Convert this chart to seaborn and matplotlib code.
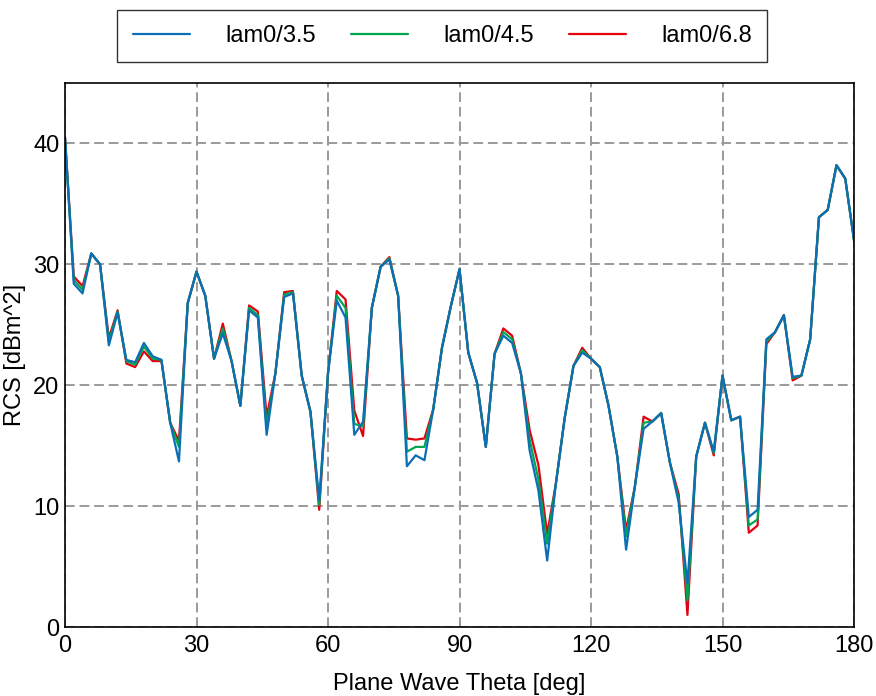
import numpy as np
import pandas as pd
import matplotlib
matplotlib.use("Agg")
import matplotlib.pyplot as plt
import seaborn as sns

# plane wave theta, sampled every 2 deg
theta = np.arange(0, 181, 2)

rcs_35 = [40.5, 28.4, 27.6, 30.9, 30.0, 23.3, 26.0, 22.1, 21.9, 23.5,
          22.4, 22.1, 16.9, 13.7, 26.8, 29.4, 27.4, 22.2, 24.3, 22.0,
          18.3, 26.2, 25.6, 15.9, 21.0, 27.3, 27.6, 20.8, 17.8, 10.5,
          21.0, 27.0, 25.6, 15.9, 17.0, 26.4, 29.8, 30.4, 27.4, 13.3,
          14.2, 13.8, 18.0, 23.1, 26.5, 29.6, 22.7, 20.2, 14.9, 22.6,
          24.1, 23.5, 21.0, 14.6, 11.3, 5.5, 11.9, 17.3, 21.6, 22.7,
          22.2, 21.5, 18.3, 14.1, 6.4, 11.6, 16.4, 17.0, 17.7, 13.6,
          10.3, 3.6, 14.1, 16.9, 14.5, 20.8, 17.1, 17.4, 9.1, 9.7,
          23.8, 24.4, 25.8, 20.7, 20.8, 23.8, 33.9, 34.5, 38.2, 37.1, 32.0]

rcs_45 = [40.5, 28.7, 27.9, 30.9, 30.0, 23.6, 26.1, 22.0, 21.7, 23.2,
          22.2, 22.1, 16.9, 14.9, 26.8, 29.4, 27.4, 22.2, 24.7, 22.0,
          18.3, 26.4, 25.8, 16.6, 21.0, 27.5, 27.7, 20.8, 17.8, 10.1,
          21.0, 27.4, 26.4, 16.8, 16.6, 26.4, 29.8, 30.5, 27.4, 14.5,
          14.9, 14.9, 18.0, 23.1, 26.5, 29.6, 22.7, 20.2, 14.9, 22.6,
          24.4, 23.8, 21.0, 15.5, 12.2, 6.9, 11.9, 17.3, 21.6, 22.9,
          22.2, 21.5, 18.3, 14.1, 7.5, 11.6, 16.9, 17.0, 17.7, 13.6,
          10.6, 2.2, 14.1, 16.9, 14.4, 20.8, 17.1, 17.4, 8.4, 8.9,
          23.6, 24.4, 25.8, 20.6, 20.8, 23.8, 33.9, 34.5, 38.2, 37.1, 32.0]

rcs_68 = [40.5, 29.0, 28.2, 30.9, 30.0, 23.9, 26.2, 21.8, 21.5, 22.8,
          22.0, 22.0, 16.9, 15.4, 26.8, 29.4, 27.4, 22.2, 25.1, 22.0,
          18.3, 26.6, 26.1, 17.4, 21.0, 27.7, 27.8, 20.8, 17.8, 9.7,
          21.0, 27.8, 27.1, 17.9, 15.8, 26.4, 29.8, 30.6, 27.4, 15.6,
          15.5, 15.6, 18.0, 23.1, 26.5, 29.6, 22.7, 20.2, 14.9, 22.6,
          24.7, 24.1, 21.0, 16.3, 13.4, 7.7, 11.9, 17.3, 21.6, 23.1,
          22.2, 21.5, 18.3, 14.1, 8.0, 11.6, 17.4, 17.0, 17.7, 13.6,
          11.0, 1.0, 14.1, 16.9, 14.2, 20.8, 17.1, 17.4, 7.8, 8.4,
          23.4, 24.4, 25.8, 20.4, 20.8, 23.8, 33.9, 34.5, 38.2, 37.1, 32.0]

labels = ["lam0/3.5", "lam0/4.5", "lam0/6.8"]
colors = {"lam0/3.5": "#0b6fb5", "lam0/4.5": "#00a651", "lam0/6.8": "#e3000f"}

df = pd.concat([
    pd.DataFrame({"theta": theta, "rcs": rcs_35, "mesh": labels[0]}),
    pd.DataFrame({"theta": theta, "rcs": rcs_45, "mesh": labels[1]}),
    pd.DataFrame({"theta": theta, "rcs": rcs_68, "mesh": labels[2]}),
])

sns.set_style("white")
plt.rcParams["font.family"] = ["Liberation Sans", "DejaVu Sans"]
plt.rcParams["font.size"] = 17

fig = plt.figure(figsize=(8.76, 6.96), dpi=100)
ax = fig.add_axes([0.0742, 0.0991, 0.9007, 0.7816])

# red drawn first so blue ends on top
sns.lineplot(data=df, x="theta", y="rcs", hue="mesh", hue_order=labels[::-1],
             palette=colors, linewidth=1.6, ax=ax, legend=False, sort=False)

ax.set_xlim(0, 180)
ax.set_ylim(0, 45)
ax.set_xticks([0, 30, 60, 90, 120, 150, 180])
ax.set_yticks([0, 10, 20, 30, 40])
ax.grid(True, color="#9a9a9a", linestyle=(0, (5, 2.5)), linewidth=1.4)
ax.set_axisbelow(True)
ax.tick_params(length=0, labelsize=17, colors="black")
ax.tick_params(axis="y", pad=4)
ax.tick_params(axis="x", pad=6)
for s in ax.spines.values():
    s.set_color("black")
    s.set_linewidth(1.2)
ax.set_xlabel("Plane Wave Theta [deg]", fontsize=17, labelpad=11, color="black")
ax.set_ylabel("RCS [dBm^2]", fontsize=17, labelpad=5, color="black")

handles = [plt.Line2D([], [], color=colors[l], linewidth=1.6) for l in labels]
leg = fig.legend(handles, labels, loc="upper center", bbox_to_anchor=(0.505, 0.986),
                 ncol=3, fontsize=17, frameon=True, fancybox=False,
                 handlelength=2.4, handletextpad=1.5, columnspacing=1.5,
                 borderpad=0.65, borderaxespad=0)
leg.get_frame().set_edgecolor("black")
leg.get_frame().set_linewidth(1.0)
for t in leg.get_texts():
    t.set_color("black")

fig.savefig("out.png", dpi=100, facecolor="white")
